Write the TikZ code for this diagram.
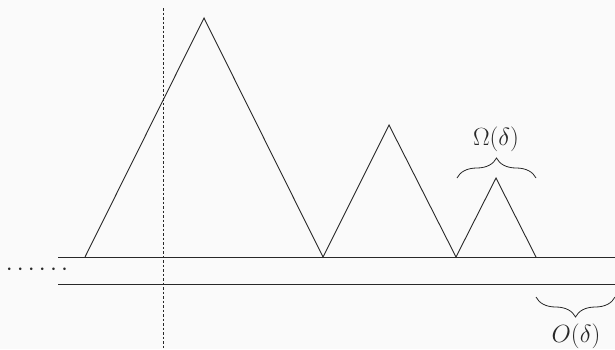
\documentclass[tikz,border=0pt]{standalone}
\usetikzlibrary{decorations.pathreplacing}
\definecolor{bg}{RGB}{250,250,250}
\definecolor{ink}{RGB}{40,40,40}
\begin{document}
\begin{tikzpicture}[x=1pt,y=-1pt,
  ln/.style={draw=ink,line width=0.9pt},
  lbl/.style={font=\fontsize{23.5}{28}\selectfont,text=ink,inner sep=0pt},
  brc/.style={draw=ink,line width=0.8pt,decorate,decoration={brace,amplitude=20pt}}]
\fill[bg] (0,0) rectangle (615,349);
\useasboundingbox (0,0) rectangle (615,349);
% rails
\coordinate (r1a) at (58,257); \coordinate (r1b) at (615,257);
\coordinate (r2a) at (58,284); \coordinate (r2b) at (615,284);
\draw[ln] (r1a) -- (r1b);
\draw[ln] (r2a) -- (r2b);
\node[lbl] (dots) at (37,270) {$\cdots\cdots$};
% dashed vertical
\coordinate (vt) at (163,8); \coordinate (vb) at (163,349);
\draw[draw=ink,line width=0.8pt,dash pattern=on 2.5pt off 2pt] (vt) -- (vb);
% triangles
\coordinate (a0) at (85,257); \coordinate (p1) at (204,18);
\coordinate (a1) at (323,257); \coordinate (p2) at (389,125);
\coordinate (a2) at (456,257); \coordinate (p3) at (496,178);
\coordinate (a3) at (536,257);
\draw[ln,line join=miter] (a0) -- (p1) -- (a1) -- (p2) -- (a2) -- (p3) -- (a3);
% braces
\coordinate (b1a) at (457,178); \coordinate (b1b) at (536,178);
\draw[brc] (b1a) -- (b1b);
\node[lbl] (om) at (496,139) {$\Omega(\delta)$};
\coordinate (b2a) at (615,297); \coordinate (b2b) at (536,297);
\draw[brc] (b2a) -- (b2b);
\node[lbl] (oo) at (576,336) {$O(\delta)$};
\end{tikzpicture}
\end{document}
